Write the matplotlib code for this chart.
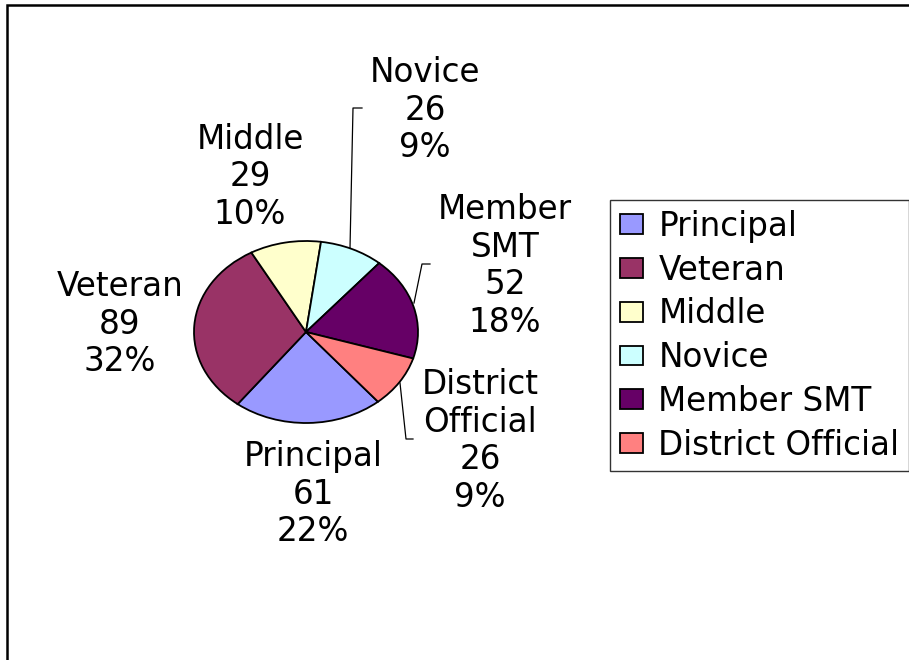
import matplotlib
matplotlib.use('Agg')
import matplotlib.pyplot as plt
from matplotlib.lines import Line2D
from matplotlib.patches import Rectangle

categories = ['Principal', 'Veteran', 'Middle', 'Novice', 'Member SMT', 'District Official']
values = [61, 89, 29, 26, 52, 26]
percent_labels = ['22%', '32%', '10%', '9%', '18%', '9%']
colors = ['#9999FF', '#993366', '#FFFFCC', '#CCFFFF', '#660066', '#FF8080']
label_names = ['Principal', 'Veteran', 'Middle', 'Novice', 'Member\nSMT', 'District\nOfficial']

plt.rcParams['font.family'] = ['DejaVu Sans']
W, H = 909, 660
fig = plt.figure(figsize=(W / 100, H / 100), dpi=100)


def fx(x):
    return x / W


def fy(y):
    return 1 - y / H


# pie axes: ellipse centre (306, 332), radii 112 x 91 px
cx, cy, rx, ry = 306, 332, 112, 91
m = 1.05
ax = fig.add_axes([fx(cx - rx * m), fy(cy + ry * m), 2 * rx * m / W, 2 * ry * m / H])
wedges, _ = ax.pie(values, colors=colors, startangle=-50, counterclock=False,
                   wedgeprops=dict(edgecolor='black', linewidth=1.3))
ax.set_aspect('auto')
ax.set_xlim(-m, m)
ax.set_ylim(-m, m)
ax.axis('off')

FS = 23.5
label_pos = [(313, 494), (120, 324), (250, 177), (425, 110), (505, 266), (480, 441)]
for name, v, pct, (x, y) in zip(label_names, values, percent_labels, label_pos):
    fig.text(fx(x), fy(y), f"{name}\n{v}\n{pct}", ha='center', va='center',
             multialignment='center', fontsize=FS, linespacing=1.17, color='black')

# leader lines
leaders = [
    [(350, 248), (353, 108), (362, 108)],
    [(414, 303), (422, 264), (430, 264)],
    [(400, 383), (406, 439), (413, 439)],
]
for pts in leaders:
    xs = [fx(p[0]) for p in pts]
    ys = [fy(p[1]) for p in pts]
    fig.add_artist(Line2D(xs, ys, color='black', linewidth=0.9, transform=fig.transFigure))

leg = fig.legend(wedges, categories, loc='upper left',
                 bbox_to_anchor=(fx(610), fy(200)), bbox_transform=fig.transFigure,
                 fontsize=FS, frameon=True, fancybox=False, shadow=False,
                 handlelength=0.7, handleheight=0.55, handletextpad=0.48,
                 borderpad=0.3, labelspacing=0.33, borderaxespad=0)
leg.get_frame().set_edgecolor('black')
leg.get_frame().set_linewidth(1.0)

# outer chart border
fig.add_artist(Rectangle((fx(7), -0.1), 1.2, fy(5) + 0.1, transform=fig.transFigure,
                         fill=False, edgecolor='black', linewidth=1.8))

fig.savefig('out.png', dpi=100)
